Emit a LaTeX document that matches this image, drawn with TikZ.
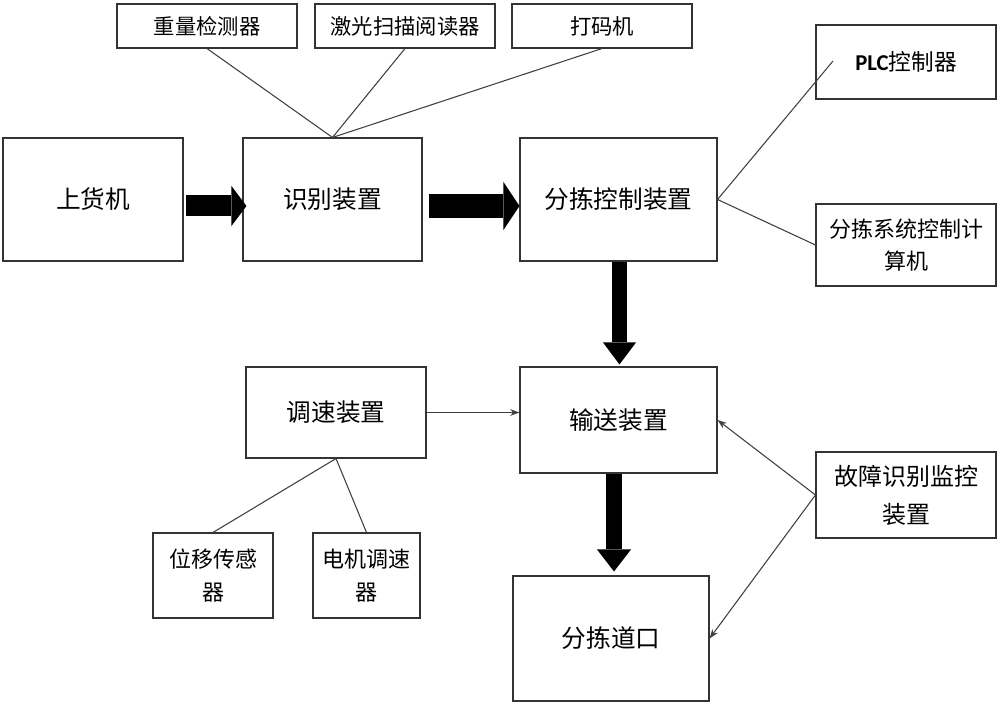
\documentclass[tikz,border=0pt]{standalone}
\usepackage{fontspec}
\setmainfont{Liberation Serif}
\newfontfamily\cjk{Noto Sans CJK SC}
\newfontfamily\plcfont{Carlito}
\usetikzlibrary{arrows.meta,calc}
\begin{document}
\begin{tikzpicture}[x=0.75pt,y=-0.75pt,
  box/.style={draw=black!80, line width=0.8pt, inner sep=0pt, align=center, anchor=center},
  sz/.style 2 args={minimum width=#1*0.75pt, minimum height=#2*0.75pt},
  fmain/.style={font={\cjk\fontsize{18.5pt}{24pt}\selectfont}},
  ftop/.style={font={\cjk\fontsize{16pt}{20pt}\selectfont}},
  fside/.style={font={\cjk\fontsize{16.5pt}{23.5pt}\selectfont}},
  fsmall/.style={font={\cjk\fontsize{16.5pt}{25pt}\selectfont}},
  fgz/.style={font={\cjk\fontsize{18pt}{28.5pt}\selectfont}},
  link/.style={draw=black!75, line width=0.8pt},
  thinarrow/.style={link, -{Stealth[length=7pt,width=5pt]}},
  bigA/.style n args={3}{draw=black, line width=#1,
     -{Triangle[length=#3,width=#2,line width=0pt]}},
]
\useasboundingbox (0,0) rectangle (1000,706);

% top devices
\node[box, ftop, sz={180}{44}] (top1) at (207,26) {重量检测器};
\node[box, ftop, sz={180}{44}] (top2) at (405,26) {激光扫描阅读器};
\node[box, ftop, sz={180}{44}] (top3) at (602,26) {打码机};

% main row
\node[box, fmain, sz={180}{123}] (shm) at (93,199.5) {上货机};
\node[box, fmain, sz={179}{123}] (sb) at (332.5,199.5) {识别装置};
\node[box, fmain, sz={197}{123}] (fjk) at (618.5,199.5) {分拣控制装置};

% right side
\node[box, sz={180}{74}, font={\cjk\fontsize{17pt}{22pt}\selectfont}] (plc) at (906,62) {{\plcfont\bfseries PLC}控制器};
\node[box, fside, sz={180}{82}] (jsj) at (906,245) {分拣系统控制计\\算机};

% middle and bottom
\node[box, fmain, sz={197}{106}] (ss) at (618.5,420) {输送装置};
\node[box, fmain, sz={180}{91}] (ts) at (336,412.5) {调速装置};
\node[box, fsmall, sz={120}{85}] (wy) at (213,575.5) {位移传感\\器};
\node[box, fsmall, sz={107}{85}] (dj) at (366.5,575.5) {电机调速\\器};
\node[box, fgz, sz={180}{86}] (gz) at (906,495) {故障识别监控\\装置};
\node[box, fmain, sz={196}{125}] (dk) at (611,638.5) {分拣道口};

% thin connectors
\draw[link] (top1.south) -- (sb.north);
\draw[link] (top2.south) -- (sb.north);
\draw[link] (top3.south) -- (sb.north);
\coordinate (plcin) at (833,61);
\draw[link] (fjk.east) -- (plcin);
\draw[link] (fjk.east) -- (jsj.west);
\draw[link] (ts.south) -- (wy.north);
\draw[link] (ts.south) -- (dj.north);
\draw[thinarrow] (ts.east) -- (ts.east -| ss.west);
\draw[thinarrow] (gz.west) -- (ss.east);
\draw[thinarrow] (gz.west) -- (dk.east);

% big arrows
\coordinate (h) at (0,206);
\draw[bigA={15.75pt}{30pt}{11.25pt}] ($(shm.east |- h)+(2,0)$) -- ($(sb.west |- h)+(4,0)$);
\draw[bigA={18pt}{36pt}{12pt}] ($(sb.east |- h)+(6,0)$) -- (fjk.west |- h);
\draw[bigA={11.25pt}{24.75pt}{16.5pt}] ($(fjk.south)+(1,0)$) -- ($(ss.north)+(1,-2)$);
\coordinate (v2) at (614,0);
\draw[bigA={12pt}{25.5pt}{16.5pt}] (ss.south -| v2) -- ($(dk.north -| v2)+(0,-4)$);
\end{tikzpicture}
\end{document}
